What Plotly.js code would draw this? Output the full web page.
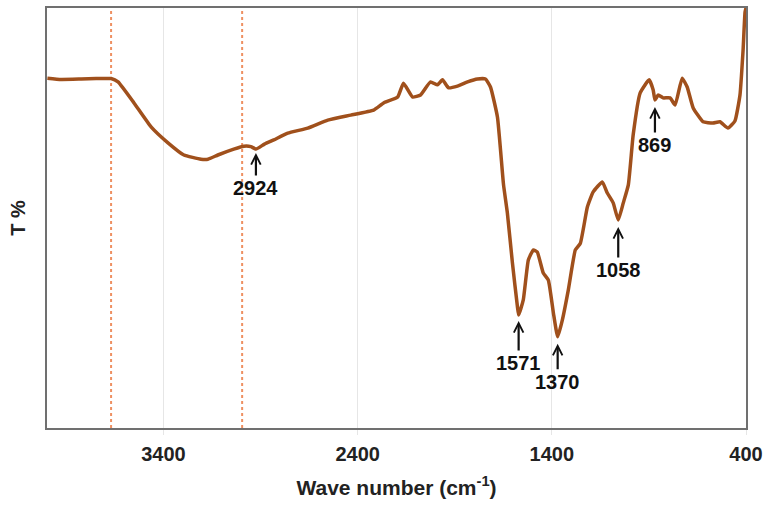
<!DOCTYPE html>
<html>
<head>
<meta charset="utf-8">
<script src="https://cdn.plot.ly/plotly-3.0.1.min.js"></script>
<style>html,body{margin:0;padding:0;background:#fff;}#chart{width:769px;height:514px;}</style>
</head>
<body>
<div id="chart"></div>
<script>
// Wavenumber (cm-1) and transmittance (arbitrary %)
const waveNumber = [3998, 3927, 3824, 3747, 3670, 3634, 3552, 3464, 3377, 3295, 3207, 3171, 3120, 3038, 2986, 2950, 2924, 2880, 2832, 2760, 2657, 2554, 2436, 2318, 2266, 2194, 2164, 2117, 2076, 2025, 1989, 1963, 1932, 1886, 1834, 1783, 1742, 1716, 1680, 1649, 1629, 1603, 1577, 1571, 1547, 1521, 1495, 1475, 1444, 1418, 1392, 1370, 1346, 1315, 1279, 1253, 1217, 1187, 1140, 1115, 1084, 1058, 1032, 1006, 981, 945, 899, 878, 869, 852, 827, 791, 765, 729, 703, 672, 621, 570, 534, 493, 457, 431, 415, 405, 400];
const transmittance = [83.3, 83.0, 83.1, 83.2, 83.2, 82.4, 77.4, 71.7, 67.9, 65.0, 64.0, 64.0, 65.0, 66.4, 67.1, 67.0, 66.4, 67.6, 68.6, 70.2, 71.4, 73.3, 74.5, 75.7, 77.4, 78.8, 82.1, 78.8, 79.3, 82.4, 81.7, 82.9, 81.0, 81.4, 82.4, 83.1, 83.1, 81.2, 74.0, 58.0, 51.2, 39.3, 28.8, 26.9, 30.5, 40.0, 42.4, 41.9, 36.9, 35.2, 27.4, 21.7, 25.7, 32.9, 42.4, 44.0, 52.6, 56.2, 58.6, 56.0, 53.6, 49.5, 53.6, 57.9, 69.8, 79.8, 82.9, 80.5, 78.1, 79.3, 78.6, 78.6, 76.9, 83.3, 81.2, 76.2, 72.9, 72.6, 72.9, 71.4, 73.1, 79.3, 90.0, 99.0, 100.0];
const peakLabels = [2924, 1571, 1370, 1058, 869];
const markerLines = [3670, 2995];
const tickValues = [3400, 2400, 1400, 400];

// label placement (pixels below the band, arrow standoff)
const labelOffset = [39, 48, 45, 50, 45];
const labelStandoff = [4, 6, 7, 7, 7];

const FONT = 'Liberation Sans, Arial, sans-serif';

const trace = {
  x: waveNumber, y: transmittance, type: 'scatter', mode: 'lines',
  line: {color: '#a0501c', width: 3.5, shape: 'spline', smoothing: 0.4},
  hoverinfo: 'x+y', showlegend: false
};

const annotations = peakLabels.map((p, i) => ({
  x: p, y: transmittance[waveNumber.indexOf(p)], xref: 'x', yref: 'y',
  text: String(p), showarrow: true, ax: 0, ay: labelOffset[i],
  arrowhead: 5, arrowsize: 0.85, arrowwidth: 2.2, arrowcolor: '#111',
  standoff: labelStandoff[i],
  font: {family: FONT, size: 20, color: '#111', weight: 'bold'}
}));

const shapes = markerLines.map(v => ({
  type: 'line', xref: 'x', yref: 'paper', x0: v, x1: v, y0: 0, y1: 1,
  line: {color: '#ee9062', width: 2, dash: 'dot'}, layer: 'below'
}));

const layout = {
  width: 769, height: 514,
  margin: {l: 47, r: 23, t: 8, b: 86},
  paper_bgcolor: '#fff', plot_bgcolor: '#fff',
  xaxis: {
    range: [4000, 400], tickvals: tickValues, ticktext: tickValues.map(String),
    showgrid: true, gridcolor: '#e6e6e6', gridwidth: 1,
    ticks: 'outside', ticklen: 5, tickcolor: '#e6e6e6', ticklabelstandoff: 2,
    tickfont: {family: FONT, size: 20, color: '#222', weight: 'bold'},
    showline: true, mirror: true, linecolor: '#707070', linewidth: 2,
    zeroline: false, automargin: false,
    title: {text: 'Wave number (cm<sup>-1</sup>)', standoff: 16,
            font: {family: FONT, size: 21, color: '#222', weight: 'bold'}}
  },
  yaxis: {
    range: [0, 100], showticklabels: false, showgrid: false, ticks: '',
    showline: true, mirror: true, linecolor: '#707070', linewidth: 2,
    zeroline: false, automargin: false,
    title: {text: 'T %', standoff: 14,
            font: {family: FONT, size: 20, color: '#222', weight: 'bold'}}
  },
  shapes: shapes,
  annotations: annotations
};

Plotly.newPlot('chart', [trace], layout, {displayModeBar: false, staticPlot: true});
</script>
</body>
</html>
